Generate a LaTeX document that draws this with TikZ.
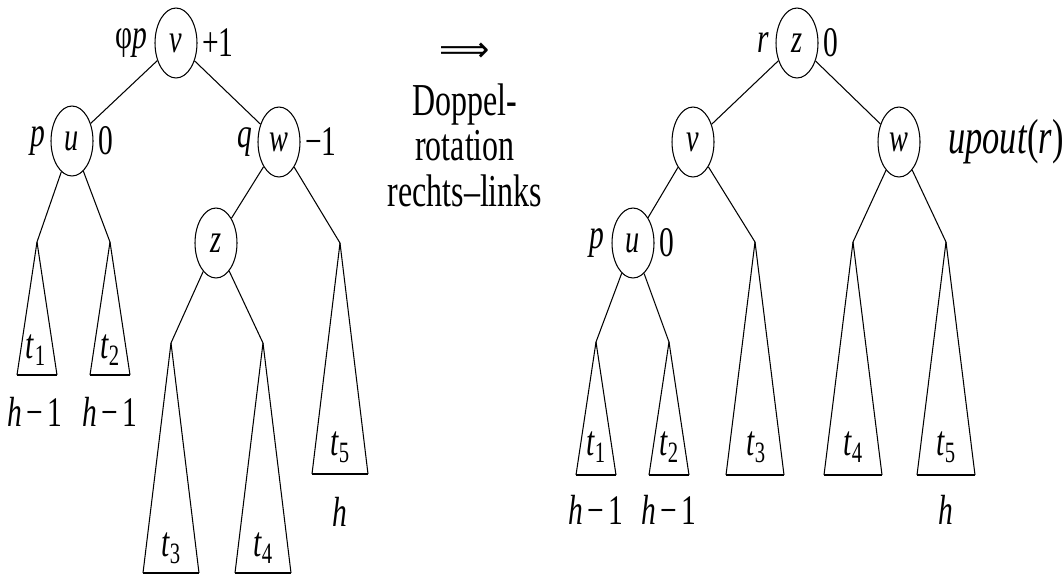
\documentclass[tikz,border=0pt]{standalone}
\usepackage{fontspec}
\setmainfont{Liberation Serif}[FakeStretch=0.7]
\newfontfamily\arrowfont{DejaVu Sans}
\usetikzlibrary{shapes.geometric,calc}
\tikzset{
  knot/.style={draw,ellipse,minimum width=0.84cm,minimum height=1.4cm,inner sep=0pt,line width=0.6pt,font=\fontsize{23}{25}\selectfont},
  lbl/.style={inner sep=0pt,font=\fontsize{24}{26}\selectfont},
  big/.style={inner sep=0pt,font=\fontsize{24}{26}\selectfont},
  base/.style={line width=1.3pt}
}
\begin{document}
\begin{tikzpicture}[x=0.02cm,y=-0.02cm,line width=0.6pt]
  \useasboundingbox (0,0) rectangle (1064,576);
  % vorher
  \node[knot] (v) at (176,43) {\textit{v}}; \node[lbl] (vl) at (131,43) {φ\textit{p}}; \node[lbl] (vr) at (218,43) {+1};
  \node[knot] (u) at (72,141) {\textit{u}}; \node[lbl] (ul) at (38,141) {\textit{p}}; \node[lbl] (ur) at (106,141) {0};
  \node[knot] (w) at (279,142) {\textit{w}}; \node[lbl] (wl) at (245,142) {\textit{q}}; \node[lbl] (wr) at (321,142) {−1};
  \node[knot] (z) at (216,243) {\textit{z}};
  \coordinate (a1) at (37,242); \coordinate (a2) at (110,242); \coordinate (a3) at (171,343);
  \coordinate (a4) at (263,343); \coordinate (a5) at (340,243);
  \draw (v)--(u); \draw (v)--(w); \draw (w)--(z);
  \draw (u)--(a1); \draw (u)--(a2); \draw (z)--(a3); \draw (z)--(a4); \draw (w)--(a5);
  \draw (a1)--++(-20,133); \draw (a1)--++(20,133); \draw[base] ($(a1)+(-20,133)$)--++(40,0);
  \draw (a2)--++(-20,133); \draw (a2)--++(20,133); \draw[base] ($(a2)+(-20,133)$)--++(40,0);
  \draw (a3)--++(-28,230); \draw (a3)--++(28,230); \draw[base] ($(a3)+(-28,230)$)--++(56,0);
  \draw (a4)--++(-28,230); \draw (a4)--++(28,230); \draw[base] ($(a4)+(-28,230)$)--++(56,0);
  \draw (a5)--++(-28,231); \draw (a5)--++(28,231); \draw[base] ($(a5)+(-28,231)$)--++(56,0);
  \node[big] (t1) at (36,350) {\textit{t}\textsubscript{1}}; \node[big] (t2) at (110,350) {\textit{t}\textsubscript{2}};
  \node[big] (t3) at (171,548) {\textit{t}\textsubscript{3}}; \node[big] (t4) at (263,548) {\textit{t}\textsubscript{4}};
  \node[big] (t5) at (340,447) {\textit{t}\textsubscript{5}};
  \node[big] (h1) at (35,412) {\textit{h}\kern2.5pt−\kern2.5pt1}; \node[big] (h2) at (110,412) {\textit{h}\kern2.5pt−\kern2.5pt1};
  \node[big] (h5) at (340,512) {\textit{h}};
  % Pfeil
  \node[inner sep=0pt] (arr) at (465,52) {\fontsize{20}{20}\arrowfont ⟹};
  \node[inner sep=0pt,anchor=north,align=center,font=\fontsize{26}{26}\selectfont] (txt) at (465,83) {Doppel-\\rotation\\rechts–links};
  % nachher
  \node[knot] (z') at (797,43) {\textit{z}}; \node[lbl] (zl') at (763,43) {\textit{r}}; \node[lbl] (zr') at (831,43) {0};
  \node[knot] (v') at (693,142) {\textit{v}};
  \node[knot] (w') at (899,142) {\textit{w}}; \node[inner sep=0pt,font=\fontsize{28}{30}\selectfont] (wr') at (1006,142) {\textit{upout}(\textit{r})};
  \node[knot] (u') at (633,243) {\textit{u}}; \node[lbl] (ul') at (597,243) {\textit{p}}; \node[lbl] (ur') at (667,243) {0};
  \coordinate (b1) at (596,342); \coordinate (b2) at (669,342); \coordinate (b3) at (755,242);
  \coordinate (b4) at (853,242); \coordinate (b5) at (946,242);
  \draw (z')--(v'); \draw (z')--(w'); \draw (v')--(u');
  \draw (u')--(b1); \draw (u')--(b2); \draw (v')--(b3); \draw (w')--(b4); \draw (w')--(b5);
  \draw (b1)--++(-20,133); \draw (b1)--++(20,133); \draw[base] ($(b1)+(-20,133)$)--++(40,0);
  \draw (b2)--++(-20,133); \draw (b2)--++(20,133); \draw[base] ($(b2)+(-20,133)$)--++(40,0);
  \draw (b3)--++(-29,233); \draw (b3)--++(29,233); \draw[base] ($(b3)+(-29,233)$)--++(58,0);
  \draw (b4)--++(-29,233); \draw (b4)--++(29,233); \draw[base] ($(b4)+(-29,233)$)--++(58,0);
  \draw (b5)--++(-29,233); \draw (b5)--++(29,233); \draw[base] ($(b5)+(-29,233)$)--++(58,0);
  \node[big] (s1) at (596,447) {\textit{t}\textsubscript{1}}; \node[big] (s2) at (669,447) {\textit{t}\textsubscript{2}};
  \node[big] (s3) at (756,447) {\textit{t}\textsubscript{3}}; \node[big] (s4) at (853,447) {\textit{t}\textsubscript{4}};
  \node[big] (s5) at (946,447) {\textit{t}\textsubscript{5}};
  \node[big] (g1) at (596,510) {\textit{h}\kern2.5pt−\kern2.5pt1}; \node[big] (g2) at (669,510) {\textit{h}\kern2.5pt−\kern2.5pt1};
  \node[big] (g5) at (946,510) {\textit{h}};
\end{tikzpicture}
\end{document}
